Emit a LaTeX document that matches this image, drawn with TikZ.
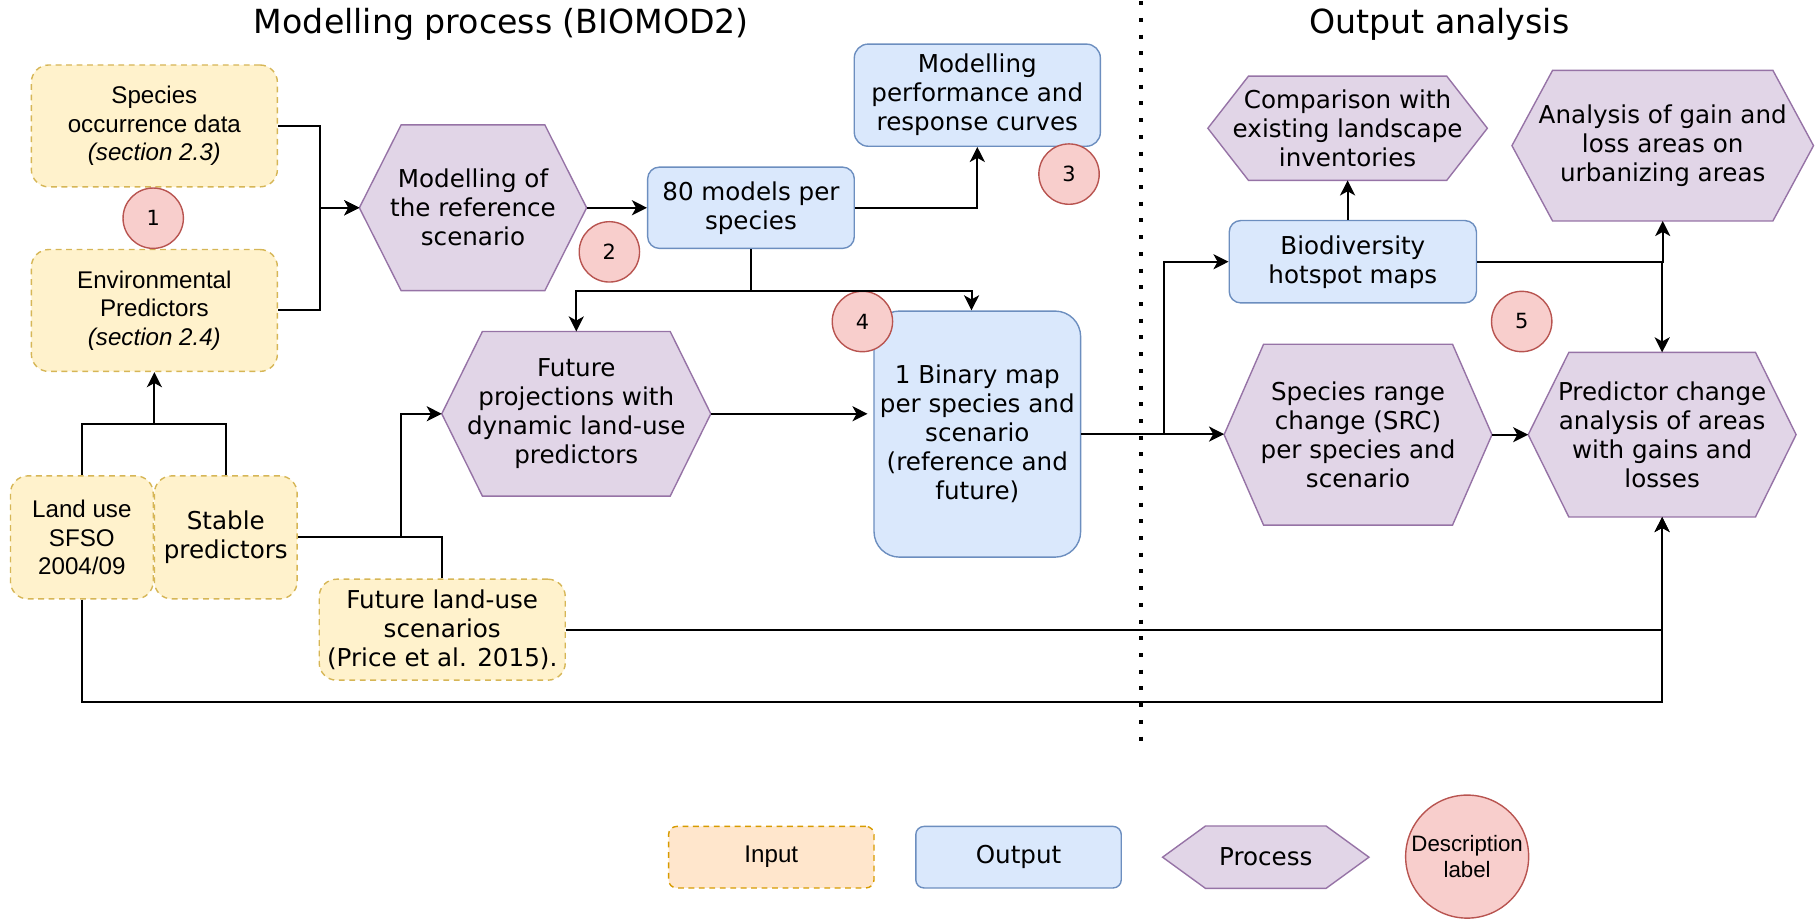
\documentclass[tikz,border=0pt]{standalone}
\usepackage{fontspec}
\setmainfont{DejaVu Sans}
\newfontfamily\arialf{Liberation Sans}
\usetikzlibrary{arrows.meta,backgrounds,calc}
\definecolor{infill}{HTML}{FFF2CC}
\definecolor{inborder}{HTML}{D6B656}
\definecolor{legin}{HTML}{FFE6CC}
\definecolor{leginb}{HTML}{D79B00}
\definecolor{outfill}{HTML}{DAE8FC}
\definecolor{outborder}{HTML}{6C8EBF}
\definecolor{procfill}{HTML}{E1D5E7}
\definecolor{procborder}{HTML}{9673A6}
\definecolor{circfill}{HTML}{F8CECC}
\definecolor{circborder}{HTML}{B85450}
\tikzset{
  inbox/.style={draw=inborder, fill=infill, dash pattern=on 2.5pt off 2pt, rounded corners=7.5pt, line width=0.6pt, align=center, inner sep=0pt},
  outbox/.style={draw=outborder, fill=outfill, rounded corners=5pt, line width=0.6pt, align=center, inner sep=0pt},
  hexnode/.style={align=center, inner sep=0pt},
  hexpath/.style={draw=procborder, fill=procfill, line width=0.6pt},
  numc/.style={circle, draw=circborder, fill=circfill, line width=0.6pt, minimum size=26pt, inner sep=0pt, font=\fontsize{9}{11}\selectfont},
  arr/.style={-{Stealth[length=6.5pt,width=6.5pt,inset=1.8pt]}, line width=0.85pt},
  ln/.style={line width=0.85pt},
  txt/.style={font=\fontsize{10.6}{12.5}\selectfont},
  atxt/.style={font=\arialf\fontsize{10.4}{12.2}\selectfont},
  ttl/.style={font=\fontsize{14.3}{17}\selectfont},
  dotline/.style={line width=1.7pt, dash pattern=on 1.7pt off 5.5pt}
}
\newcommand{\hexbg}[2]{%
  \begin{pgfonlayer}{background}
  \path[hexpath] (#1.west) -- ([xshift=#2]#1.north west) -- ([xshift=-#2]#1.north east) -- (#1.east) -- ([xshift=-#2]#1.south east) -- ([xshift=#2]#1.south west) -- cycle;
  \end{pgfonlayer}}
\begin{document}
\begin{tikzpicture}[x=0.5pt,y=-0.5pt]
\useasboundingbox (0,0) rectangle (1568,795);
% titles
\node[ttl] (t1) at (432,21) {Modelling process (BIOMOD2)};
\node[ttl] (t2) at (1240,21) {Output analysis};
\draw[dotline] (983,1) -- (983,640);
% input boxes
\node[inbox, atxt, minimum width=106pt, minimum height=52.5pt] (spec) at (133,108.5) {Species\\occurrence data\\\textit{(section 2.3)}};
\node[inbox, atxt, minimum width=106pt, minimum height=52.5pt] (env) at (133,267.5) {Environmental\\Predictors\\\textit{(section 2.4)}};
\node[inbox, atxt, minimum width=61.5pt, minimum height=53pt] (land) at (70.5,463) {Land use\\SFSO\\2004/09};
\node[inbox, txt, minimum width=61.5pt, minimum height=53pt] (stab) at (194.5,463) {Stable\\predictors};
\node[inbox, txt, minimum width=106pt, minimum height=43.5pt] (flu) at (381,542.5) {Future land-use\\scenarios\\(Price et al. 2015).};
% output boxes
\node[outbox, txt, minimum width=89pt, minimum height=35pt] (m80) at (647,179) {80 models per\\species};
\node[outbox, txt, rounded corners=6pt, minimum width=106pt, minimum height=44pt] (mperf) at (842,82) {Modelling\\performance and\\response curves};
\node[outbox, txt, rounded corners=11pt, minimum width=89pt, minimum height=106pt] (bin) at (842,374) {1 Binary map\\per species and\\scenario\\(reference and\\future)};
\node[outbox, txt, minimum width=106.5pt, minimum height=35.5pt] (bio) at (1165.5,225.5) {Biodiversity\\hotspot maps};
% process hexagons
\node[hexnode, txt, minimum width=97.5pt, minimum height=71pt] (mref) at (407.5,179) {Modelling of\\the reference\\scenario};
\hexbg{mref}{18pt}
\node[hexnode, txt, minimum width=115.5pt, minimum height=70.5pt] (fut) at (496.5,356.5) {Future\\projections with\\dynamic land-use\\predictors};
\hexbg{fut}{17.5pt}
\node[hexnode, txt, minimum width=120pt, minimum height=44.5pt] (comp) at (1161,110.5) {Comparison with\\existing landscape\\inventories};
\hexbg{comp}{17.5pt}
\node[hexnode, txt, minimum width=129.5pt, minimum height=64.5pt] (ana) at (1432.5,125.5) {Analysis of gain and\\loss areas on\\urbanizing areas};
\hexbg{ana}{17.5pt}
\node[hexnode, txt, minimum width=115pt, minimum height=77.5pt] (src) at (1170,374.5) {Species range\\change (SRC)\\per species and\\scenario};
\hexbg{src}{17pt}
\node[hexnode, txt, minimum width=115pt, minimum height=70.5pt] (pred) at (1432,374.5) {Predictor change\\analysis of areas\\with gains and\\losses};
\hexbg{pred}{17.5pt}
% number circles
\node[numc] (c1) at (132,188) {1};
\node[numc] (c2) at (525,217) {2};
\node[numc] (c3) at (921,150) {3};
\node[numc] (c4) at (743,277) {4};
\node[numc] (c5) at (1311,277) {5};
% connectors
\draw[arr] (spec.east) -- ++(18pt,0) |- (mref.west);
\draw[arr] (env.east) -- ++(18pt,0) |- (mref.west);
\draw[arr] (mref.east) -- (m80.west);
\draw[arr] (m80.east) -| (mperf.south);
\draw[arr] (m80.south) -- ++(0,-18pt) -| (fut.north);
\draw[arr] (m80.south) -- ++(0,-18pt) -| ([xshift=-2.5pt]bin.north);
\draw[arr, shorten >=2.5pt] (fut.east) -- (fut.east -| bin.west);
\coordinate (lj) at ($(land.north)+(0,22pt)$);
\draw[ln] (land.north) -- (lj) -| (stab.north);
\draw[arr] (lj -| env.south) -- (env.south);
\draw[arr] (stab.east) -- ++(44.5pt,0) |- (fut.west);
\draw[ln] (flu.north) |- (stab.east);
\draw[arr] (flu.east) -| (pred.south);
\draw[arr] (land.south) -- ++(0,-44pt) -| (pred.south);
\draw[arr] (bin.east) -- ++(35.5pt,0) |- (bio.west);
\draw[arr] (bin.east) -- (bin.east -| src.west);
\draw[arr] (comp.south |- bio.north) -- (comp.south);
\draw[arr] (bio.east) -| (ana.south);
\draw[arr] (bio.east) -| (pred.north);
\draw[arr] (src.east) -- (pred.west);
% legend
\node[inbox, atxt, draw=leginb, fill=legin, rounded corners=3.5pt, minimum width=88.5pt, minimum height=26.5pt] (lin) at (664.5,738.5) {Input};
\node[outbox, txt, rounded corners=3.5pt, minimum width=88.5pt, minimum height=26.5pt] (lout) at (877.5,738.5) {Output};
\node[hexnode, txt, minimum width=88.5pt, minimum height=26.5pt] (lproc) at (1090.5,738.5) {Process};
\hexbg{lproc}{18.5pt}
\node[numc, minimum size=53pt, font=\arialf\fontsize{9.6}{11.5}\selectfont, align=center] (ldesc) at (1264,738) {Description\\label};
\end{tikzpicture}
\end{document}
